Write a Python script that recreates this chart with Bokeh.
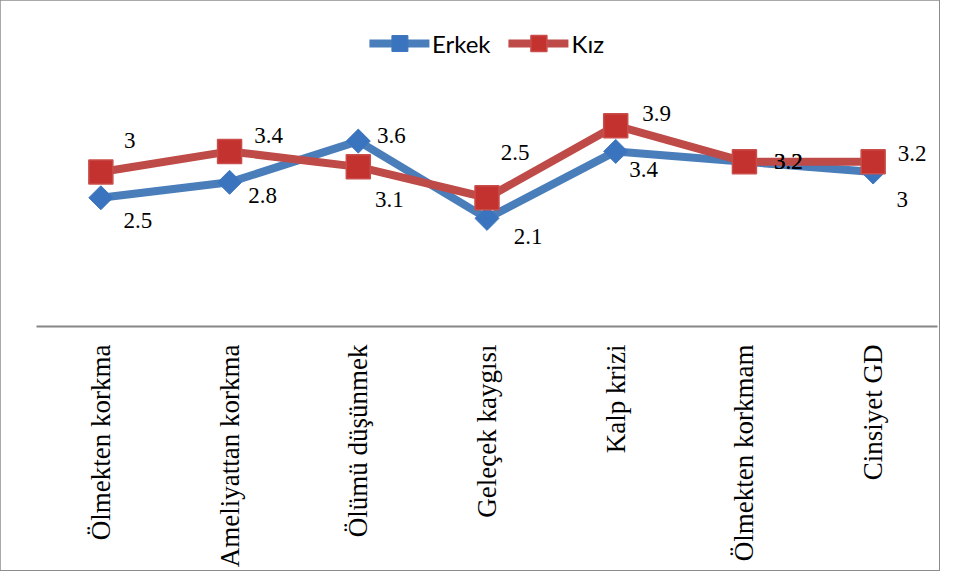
import math
from bokeh.plotting import figure
from bokeh.models import ColumnDataSource, Range1d, FactorRange, Legend, LegendItem, LabelSet
from bokeh.embed import file_html
from bokeh.resources import INLINE

# ---- data ----
categories = ["Ölmekten korkma", "Ameliyattan korkma", "Ölümü düşünmek",
              "Geleçek kaygısı", "Kalp krizi", "Ölmekten korkmam", "Cinsiyet GD"]
erkek = [2.5, 2.8, 3.6, 2.1, 3.4, 3.2, 3.0]
kiz = [3.0, 3.4, 3.1, 2.5, 3.9, 3.2, 3.2]
erkek_labels = ["2.5", "2.8", "3.6", "2.1", "3.4", "3.2", "3"]
kiz_labels = ["3", "3.4", "3.1", "2.5", "3.9", "3.2", "3.2"]

# label placement (screen px offsets from point; dy positive = downwards)
erkek_dx = [37, 33, 33, 41, 28, 44, 29]
erkek_dy = [23, 13, -6, 18, 18, 0, 27]
kiz_dx = [29, 39, 31, 28, 41, 44, 39]
kiz_dy = [-32, -16, 33, -45, -12, 0, -8]

BLUE_LINE = "#4A7EBB"
RED_LINE = "#BE4B48"

p = figure(width=939, height=570, output_backend="svg", toolbar_location=None,
           x_range=FactorRange(*categories, range_padding=0),
           y_range=Range1d(0, 6.02),
           min_border_left=36, min_border_right=2, min_border_top=16, min_border_bottom=244)
p.styles = {"outline": "2px solid #8c8c8c", "outline-offset": "-1px"}

p.outline_line_color = None
p.xgrid.visible = False
p.ygrid.visible = False
p.yaxis.visible = False
p.background_fill_color = "white"
p.border_fill_color = "white"

ax = p.xaxis[0]
ax.axis_line_color = "#868686"
ax.axis_line_width = 2
ax.major_tick_line_color = None
ax.minor_tick_line_color = None
ax.major_label_orientation = math.pi / 2
ax.major_label_standoff = 12
ax.major_label_text_font = "Liberation Serif"
ax.major_label_text_font_size = "27px"
ax.major_label_text_color = "black"

src_e = ColumnDataSource(dict(x=categories, y=erkek, t=erkek_labels,
                              dx=erkek_dx, dy=[-d for d in erkek_dy]))
src_k = ColumnDataSource(dict(x=categories, y=kiz, t=kiz_labels,
                              dx=kiz_dx, dy=[-d for d in kiz_dy]))

le = p.line("x", "y", source=src_e, line_color=BLUE_LINE, line_width=8,
            line_join="round", line_cap="round")
se = p.scatter("x", "y", source=src_e, marker="square", angle=math.pi / 4, size=17,
               fill_color="#3A74BE", line_color="#3F78BD", line_width=1)
lk = p.line("x", "y", source=src_k, line_color=RED_LINE, line_width=8,
            line_join="round", line_cap="round")
sk = p.scatter("x", "y", source=src_k, marker="square", size=24,
               fill_color="#C3322F", line_color="#C94E4B", line_width=1.5)

for src in (src_e, src_k):
    labels = LabelSet(x="x", y="y", text="t", source=src, x_offset="dx", y_offset="dy",
                      text_align="center", text_baseline="middle",
                      text_font_size="23px", text_color="black")
    labels.text_font = "Liberation Serif"
    p.add_layout(labels)

legend = Legend(items=[LegendItem(label="Erkek", renderers=[le, se]),
                       LegendItem(label="Kız", renderers=[lk, sk])],
                orientation="horizontal", location="top_center",
                glyph_width=60, glyph_height=40, label_standoff=3, spacing=18,
                padding=0, margin=7, border_line_color=None,
                background_fill_alpha=0,
                label_text_font="Lato", label_text_font_size="24px",
                label_text_color="black")
p.add_layout(legend, "center")

open("out.html", "w").write(file_html(p, INLINE))
